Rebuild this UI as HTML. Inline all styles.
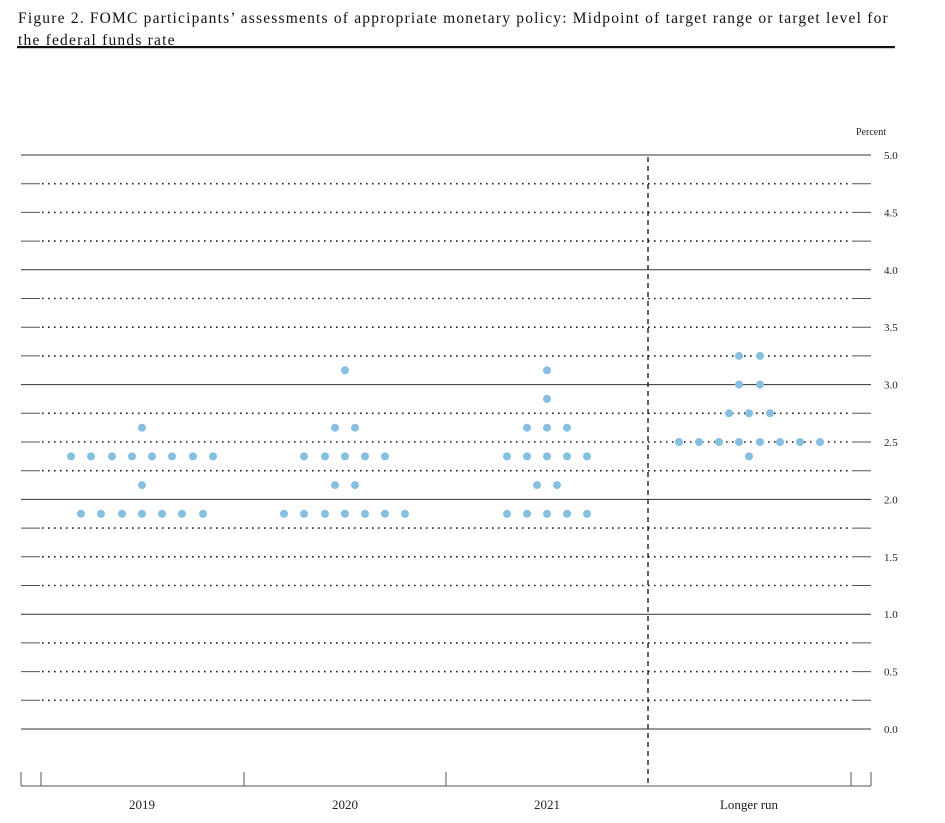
<!DOCTYPE html>
<html><head><meta charset="utf-8"><style>
body{margin:0;background:#fff;width:945px;height:823px;overflow:hidden;font-family:"Liberation Serif",serif}
.t{position:absolute;left:18px;top:8px;font-size:15.5px;letter-spacing:1.2px;line-height:22px;color:#111;white-space:nowrap}
</style></head><body>
<div class="t">Figure 2. FOMC participants’ assessments of appropriate monetary policy: Midpoint of target range or target level for<br>the federal funds rate</div>
<svg width="945" height="823" style="position:absolute;left:0;top:0">
<rect x="17" y="46" width="878" height="2.2" fill="#111"/>
<text x="856" y="135" font-size="10" fill="#222" font-family="Liberation Serif">Percent</text>
<g id="g"></g>
<line x1="648" y1="157" x2="648" y2="786" stroke="#111" stroke-width="1.3" stroke-dasharray="5,4"/>
<g stroke="#555" stroke-width="1"><line x1="21" y1="786" x2="871" y2="786"/>
<line x1="21" y1="772" x2="21" y2="786"/><line x1="41" y1="772" x2="41" y2="786"/><line x1="244" y1="772" x2="244" y2="786"/><line x1="446" y1="772" x2="446" y2="786"/><line x1="851" y1="772" x2="851" y2="786"/><line x1="871" y1="772" x2="871" y2="786"/></g>
<g font-size="13" fill="#222" text-anchor="middle"><text x="142" y="809">2019</text><text x="345" y="809">2020</text><text x="547" y="809">2021</text><text x="749" y="809">Longer run</text></g>
<g id="d" fill="#86bfe0"></g>
</svg>
<script>
var g=document.getElementById('g'),s='';
function Y(v){return 729-v*114.8}
for(var i=0;i<=20;i++){var v=i*0.25,y=Y(v).toFixed(1);
if(i%4==0){s+='<line x1="21" y1="'+y+'" x2="871" y2="'+y+'" stroke="#333" stroke-width="1"/>';}
else{s+='<line x1="21" y1="'+y+'" x2="40" y2="'+y+'" stroke="#555"/><line x1="852" y1="'+y+'" x2="871" y2="'+y+'" stroke="#555"/><line x1="42" y1="'+y+'" x2="851" y2="'+y+'" stroke="#222" stroke-width="1.6" stroke-dasharray="1.6,4.4"/>';}
if(i%2==0){s+='<text x="884" y="'+(+y+4)+'" font-size="11" fill="#222">'+v.toFixed(1)+'</text>';}}
g.innerHTML=s;
var P=[[3.125,[345,547]],[2.875,[547]],[2.625,[142,335,355,527,547,567]],[2.375,[71,91,112,132,152,172,193,213,304,325,345,365,385,507,527,547,567,587,749]],[2.125,[142,335,355,537,557]],[1.875,[81,101,122,142,162,182,203,284,304,325,345,365,385,405,507,527,547,567,587]],[3.25,[739,760]],[3.0,[739,760]],[2.75,[729,749,770]],[2.5,[679,699,719,739,760,780,800,820]]],d='';
P.forEach(function(r){r[1].forEach(function(x){d+='<circle cx="'+x+'" cy="'+Y(r[0]).toFixed(1)+'" r="4"/>'})});
document.getElementById('d').innerHTML=d;
</script>
</body></html>
